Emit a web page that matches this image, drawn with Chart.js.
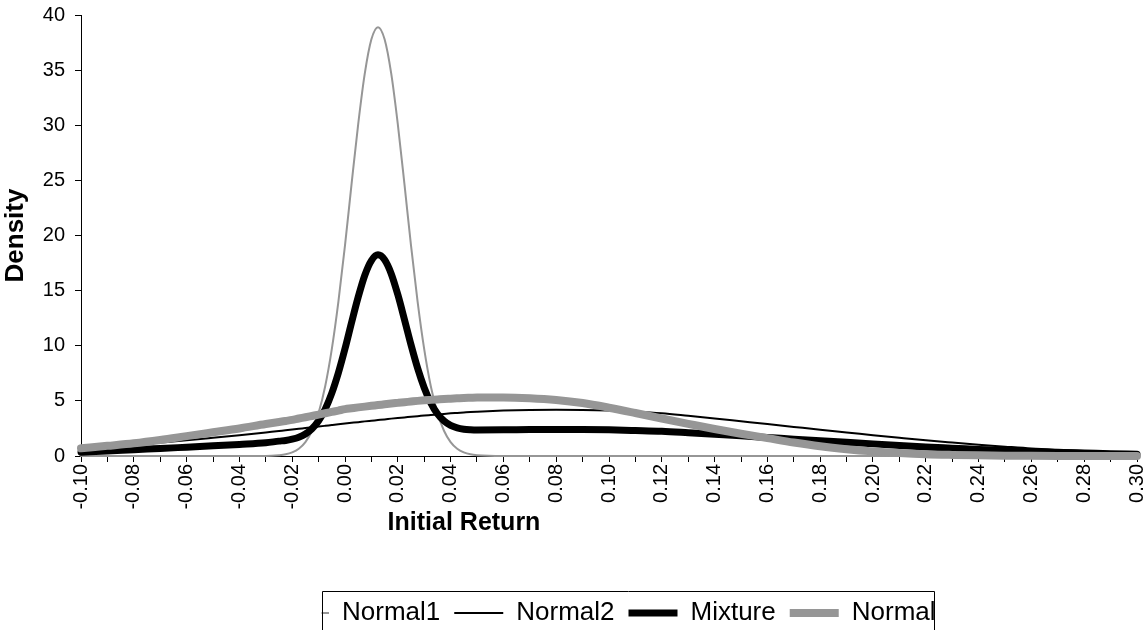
<!DOCTYPE html>
<html>
<head>
<meta charset="utf-8">
<script src="https://cdn.jsdelivr.net/npm/chart.js@4/dist/chart.umd.min.js"></script>
<style>
html,body{margin:0;padding:0;background:#fff;}
#wrap{width:1146px;height:630px;position:relative;}
</style>
</head>
<body>
<div id="wrap"><canvas id="c" width="1146" height="630"></canvas></div>
<script>
// ---- data ----
const xValues = [
  -0.10, -0.09, -0.08, -0.07, -0.06, -0.05, -0.04, -0.03,
  -0.025, -0.0225, -0.02, -0.0175, -0.015, -0.0125, -0.01, -0.0075, -0.005, -0.0025,
  0, 0.0025, 0.005, 0.0075, 0.01, 0.0125, 0.015, 0.0175, 0.02, 0.0225, 0.025, 0.0275,
  0.03, 0.0325, 0.035, 0.0375, 0.04, 0.0425, 0.045, 0.0475, 0.05,
  0.06, 0.07, 0.08, 0.09, 0.10, 0.11, 0.12, 0.13, 0.14, 0.15, 0.16, 0.17, 0.18, 0.19,
  0.20, 0.21, 0.22, 0.23, 0.24, 0.25, 0.26, 0.27, 0.28, 0.29, 0.30
];
const normal1 = [
  0, 0, 0, 0, 0, 0, 0, 0,
  0.07, 0.15, 0.33, 0.66, 1.26, 2.29, 3.92, 6.33, 9.69, 14.0,
  19.1, 24.7, 30.1, 34.7, 37.8, 38.9, 37.8, 34.7, 30.1, 24.7, 19.1, 14.0,
  9.69, 6.33, 3.92, 2.29, 1.26, 0.66, 0.33, 0.15, 0.07,
  0, 0, 0, 0, 0, 0, 0, 0, 0, 0, 0, 0, 0, 0,
  0, 0, 0, 0, 0, 0, 0, 0, 0, 0, 0
];
const normal2 = [
  0.68, 0.85, 1.03, 1.22, 1.42, 1.65, 1.89, 2.14,
  2.27, 2.33, 2.40, 2.47, 2.53, 2.60, 2.67, 2.74, 2.81, 2.88,
  2.95, 3.01, 3.07, 3.14, 3.20, 3.26, 3.32, 3.39, 3.45, 3.50, 3.56, 3.61,
  3.67, 3.72, 3.77, 3.82, 3.87, 3.91, 3.95, 3.99, 4.02,
  4.12, 4.18, 4.20, 4.18, 4.12, 4.02, 3.87, 3.64, 3.40, 3.15, 2.90, 2.64, 2.38, 2.14,
  1.89, 1.65, 1.42, 1.22, 1.03, 0.85, 0.68, 0.56, 0.46, 0.36, 0.29
];
const mixture = [
  0.35, 0.45, 0.57, 0.68, 0.80, 0.92, 1.05, 1.20,
  1.35, 1.41, 1.53, 1.71, 2.00, 2.47, 3.20, 4.25, 5.70, 7.55,
  9.73, 12.12, 14.42, 16.40, 17.73, 18.25, 17.80, 16.54, 14.64, 12.40, 10.09, 7.97,
  6.20, 4.82, 3.83, 3.18, 2.77, 2.55, 2.43, 2.38, 2.36,
  2.37, 2.40, 2.41, 2.40, 2.37, 2.31, 2.24, 2.11, 1.97, 1.83, 1.68, 1.53, 1.38, 1.24,
  1.10, 0.96, 0.82, 0.71, 0.60, 0.49, 0.39, 0.32, 0.27, 0.21, 0.17
];
const normal = [
  0.70, 0.92, 1.15, 1.45, 1.80, 2.15, 2.50, 2.90,
  3.08, 3.18, 3.28, 3.40, 3.51, 3.63, 3.75, 3.88, 4.00, 4.12,
  4.25, 4.33, 4.41, 4.48, 4.55, 4.62, 4.69, 4.76, 4.82, 4.88, 4.94, 5.00,
  5.05, 5.09, 5.13, 5.17, 5.20, 5.23, 5.26, 5.28, 5.30,
  5.31, 5.24, 5.08, 4.80, 4.38, 3.90, 3.40, 2.92, 2.45, 2.02, 1.62, 1.22, 0.88, 0.62,
  0.42, 0.27, 0.16, 0.10, 0.06, 0.03, 0.02, 0.01, 0, 0, 0
];
const seriesNames = ['Normal1', 'Normal2', 'Mixture', 'Normal'];
const yTickValues = [0, 5, 10, 15, 20, 25, 30, 35, 40];
const xTickLabels = ['-0.10','-0.08','-0.06','-0.04','-0.02','0.00','0.02','0.04','0.06','0.08',
  '0.10','0.12','0.14','0.16','0.18','0.20','0.22','0.24','0.26','0.28','0.30'];
const xTitle = 'Initial Return';
const yTitle = 'Density';

// ---- styling ----
const FONT = '"Liberation Sans", Arial, sans-serif';
const GRAY = '#969696';
const toPoints = (ys) => xValues.map((x, i) => ({ x: x, y: ys[i] }));

const common = { pointRadius: 0, pointHoverRadius: 0, pointStyle: 'line', fill: false,
  cubicInterpolationMode: 'monotone', clip: false, borderCapStyle: 'round', borderJoinStyle: 'round' };

const frame = {
  id: 'frame',
  afterLayout(chart) {
    const lg = chart.legend;
    if (lg) { const w = lg.right - lg.left; lg.left = 266; lg.right = lg.left + w + 400; }
  },
  afterDraw(chart) {
    const ctx = chart.ctx;
    ctx.save();
    // legend frame (clipped at the left like the reference)
    ctx.fillStyle = '#fff';
    ctx.fillRect(0, 584, 321.5, 50);
    ctx.strokeStyle = '#000';
    ctx.lineWidth = 1;
    ctx.beginPath();
    ctx.moveTo(322.5, 640); ctx.lineTo(322.5, 591.5); ctx.lineTo(934.5, 591.5); ctx.lineTo(934.5, 640);
    ctx.stroke();
    // x axis title
    ctx.fillStyle = '#000';
    ctx.font = 'bold 25px ' + FONT;
    ctx.textAlign = 'center';
    ctx.textBaseline = 'middle';
    ctx.fillText(xTitle, 464, 523);
    ctx.restore();
  }
};

new Chart(document.getElementById('c'), {
  type: 'line',
  data: {
    datasets: [
      Object.assign({ label: seriesNames[0], data: toPoints(normal1), borderColor: GRAY, backgroundColor: GRAY, borderWidth: 2, order: 3 }, common),
      Object.assign({ label: seriesNames[1], data: toPoints(normal2), borderColor: '#000', backgroundColor: '#000', borderWidth: 2, order: 2 }, common),
      Object.assign({ label: seriesNames[2], data: toPoints(mixture), borderColor: '#000', backgroundColor: '#000', borderWidth: 7, order: 1 }, common),
      Object.assign({ label: seriesNames[3], data: toPoints(normal), borderColor: GRAY, backgroundColor: GRAY, borderWidth: 8, order: 0 }, common)
    ]
  },
  options: {
    responsive: false,
    animation: false,
    devicePixelRatio: 1,
    layout: { padding: { top: 15, right: 9, bottom: -6, left: 0 } },
    plugins: {
      tooltip: { enabled: false },
      legend: {
        position: 'bottom',
        align: 'start',
        labels: {
          usePointStyle: true,
          pointStyleWidth: 49,
          padding: 14,
          color: '#000',
          font: { family: FONT, size: 26 },
          sort: (a, b) => a.datasetIndex - b.datasetIndex
        }
      }
    },
    scales: {
      x: {
        type: 'linear',
        min: -0.10,
        max: 0.30,
        afterBuildTicks: (scale) => {
          const t = [];
          for (let i = 0; i <= 40; i++) t.push({ value: -0.10 + i * 0.01 });
          scale.ticks = t;
        },
        afterFit: (scale) => { scale.height = 130; scale.paddingRight = 0; scale.paddingLeft = 0; },
        ticks: {
          autoSkip: false,
          minRotation: 90,
          maxRotation: 90,
          padding: 2,
          color: '#000',
          font: { family: FONT, size: 20 },
          callback: (v, i) => (i % 2 === 0 ? xTickLabels[i / 2] : '')
        },
        grid: { drawOnChartArea: false, drawTicks: true, tickLength: 6, color: '#000', lineWidth: 1 },
        border: { display: true, color: '#000', width: 1 },
        title: { display: false }
      },
      y: {
        min: 0,
        max: 40,
        afterBuildTicks: (scale) => { scale.ticks = yTickValues.map(v => ({ value: v })); },
        afterFit: (scale) => { scale.width = 81; scale.paddingTop = 0; scale.paddingBottom = 0; },
        ticks: {
          padding: 10,
          color: '#000',
          font: { family: FONT, size: 20 },
          callback: (v) => String(v)
        },
        grid: { drawOnChartArea: false, drawTicks: true, tickLength: 6, color: '#000', lineWidth: 1 },
        border: { display: true, color: '#000', width: 1 },
        title: {
          display: true,
          text: yTitle,
          color: '#000',
          font: { family: FONT, size: 26, weight: 'bold' },
          padding: { top: 0, bottom: 0 }
        }
      }
    }
  },
  plugins: [frame]
});
</script>
</body>
</html>
